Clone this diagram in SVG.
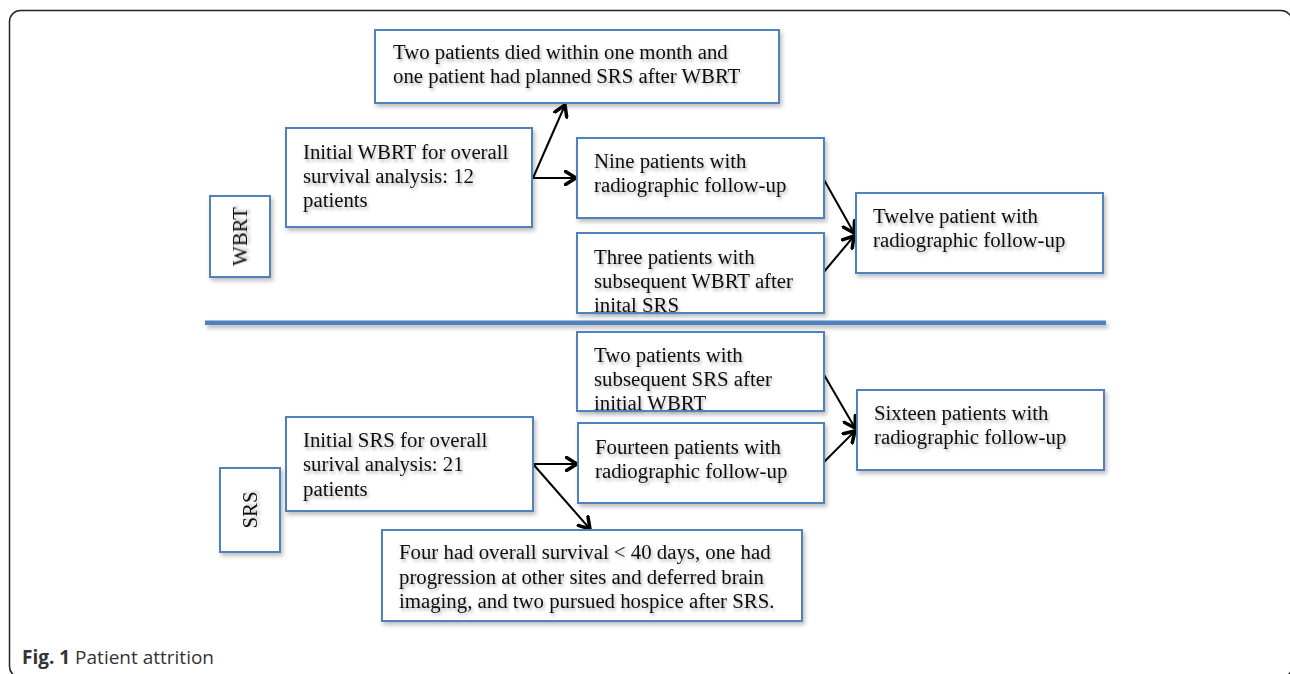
<svg xmlns="http://www.w3.org/2000/svg" width="1290" height="674" viewBox="0 0 1290 674">
<style>
.box{fill:#fff;stroke:#4f81bd;stroke-width:2;filter:url(#sh)}
.t{font-family:"Liberation Serif","Times New Roman",serif;font-size:20.8px;fill:#111;filter:url(#tsh)}
.c{stroke:#000;stroke-width:2;fill:none;marker-end:url(#ah)}
</style>
<defs>
<filter id="sh" x="-10%" y="-10%" width="130%" height="130%">
<feDropShadow dx="2" dy="3" stdDeviation="2" flood-color="#000" flood-opacity="0.25"/>
</filter>
<filter id="lsh" filterUnits="userSpaceOnUse" x="195" y="310" width="925" height="30">
<feDropShadow dx="2" dy="3" stdDeviation="2" flood-color="#000" flood-opacity="0.3"/>
</filter>
<filter id="tsh" x="-5%" y="-20%" width="115%" height="160%">
<feDropShadow dx="1.5" dy="2.5" stdDeviation="1.5" flood-color="#000" flood-opacity="0.3"/>
</filter>
<marker id="ah" viewBox="0 0 14 16" refX="12" refY="8" markerWidth="14" markerHeight="16" markerUnits="userSpaceOnUse" orient="auto">
<path d="M1.5,1.5 L12,8 L1.5,14.5" fill="none" stroke="#000" stroke-width="3.5" stroke-linecap="round" stroke-linejoin="round"/>
</marker>
</defs>
<rect x="9.5" y="10.5" width="1282.5" height="667" rx="11" fill="#fff" stroke="#222" stroke-width="1.5"/>
<g id="divider">
<rect x="205" y="320.5" width="901" height="4.5" fill="#4f81bd" filter="url(#lsh)"/>
</g>
<g id="connectors">
<line class="c" x1="533" y1="178" x2="576" y2="178"/>
<line class="c" x1="533" y1="178" x2="565" y2="105"/>
<line class="c" x1="823" y1="178" x2="854" y2="233"/>
<line class="c" x1="823" y1="273" x2="854" y2="236"/>
<line class="c" x1="823" y1="373" x2="855" y2="428"/>
<line class="c" x1="823" y1="463" x2="855" y2="431"/>
<line class="c" x1="533" y1="464" x2="577" y2="464"/>
<line class="c" x1="533" y1="464" x2="590" y2="529"/>
</g>
<g id="n_top">
<rect class="box" x="375" y="30" width="404" height="73"/>
<text class="t" x="393" y="59">Two patients died within one month and</text>
<text class="t" x="393" y="83">one patient had planned SRS after WBRT</text>
</g>
<g id="n_wbrt_label">
<rect class="box" x="210" y="196" width="60" height="81"/>
<text class="t" transform="translate(247,236.5) rotate(-90)" text-anchor="middle">WBRT</text>
</g>
<g id="n_init_wbrt">
<rect class="box" x="286" y="128" width="246" height="99"/>
<text class="t" x="303" y="159">Initial WBRT for overall</text>
<text class="t" x="303" y="183">survival analysis: 12</text>
<text class="t" x="303" y="207">patients</text>
</g>
<g id="n_nine">
<rect class="box" x="577" y="138" width="247" height="80"/>
<text class="t" x="594" y="168">Nine patients with</text>
<text class="t" x="594" y="192">radiographic follow-up</text>
</g>
<g id="n_three">
<rect class="box" x="577" y="233" width="247" height="80"/>
<text class="t" x="594" y="264">Three patients with</text>
<text class="t" x="594" y="288">subsequent WBRT after</text>
<text class="t" x="594" y="311.5">inital SRS</text>
<line x1="577" y1="313" x2="824" y2="313" stroke="#4f81bd" stroke-width="2"/>
</g>
<g id="n_twelve">
<rect class="box" x="856" y="193" width="247" height="80"/>
<text class="t" x="873" y="223">Twelve patient with</text>
<text class="t" x="873" y="247">radiographic follow-up</text>
</g>
<g id="n_two_srs">
<rect class="box" x="577" y="332" width="247" height="79"/>
<text class="t" x="594" y="362">Two patients with</text>
<text class="t" x="594" y="386">subsequent SRS after</text>
<text class="t" x="594" y="409.5">initial WBRT</text>
<line x1="577" y1="411" x2="824" y2="411" stroke="#4f81bd" stroke-width="2"/>
</g>
<g id="n_sixteen">
<rect class="box" x="857" y="390" width="247" height="80"/>
<text class="t" x="874" y="420">Sixteen patients with</text>
<text class="t" x="874" y="444">radiographic follow-up</text>
</g>
<g id="n_init_srs">
<rect class="box" x="286" y="417" width="247" height="94"/>
<text class="t" x="303" y="447">Initial SRS for overall</text>
<text class="t" x="303" y="471">surival analysis: 21</text>
<text class="t" x="303" y="496">patients</text>
</g>
<g id="n_fourteen">
<rect class="box" x="578" y="423" width="246" height="80"/>
<text class="t" x="595" y="454">Fourteen patients with</text>
<text class="t" x="595" y="478">radiographic follow-up</text>
</g>
<g id="n_srs_label">
<rect class="box" x="220" y="468" width="60" height="84"/>
<text class="t" transform="translate(257,510) rotate(-90)" text-anchor="middle">SRS</text>
</g>
<g id="n_four">
<rect class="box" x="382" y="530" width="420" height="91"/>
<text class="t" x="399" y="559">Four had overall survival &lt; 40 days, one had</text>
<text class="t" x="399" y="584">progression at other sites and deferred brain</text>
<text class="t" x="399" y="608">imaging, and two pursued hospice after SRS.</text>
</g>
<g id="caption">
<text x="22" y="664" font-family="'Open Sans','Noto Sans',sans-serif" font-size="19" fill="#333"><tspan font-weight="bold">Fig. 1</tspan> Patient attrition</text>
</g>
</svg>
